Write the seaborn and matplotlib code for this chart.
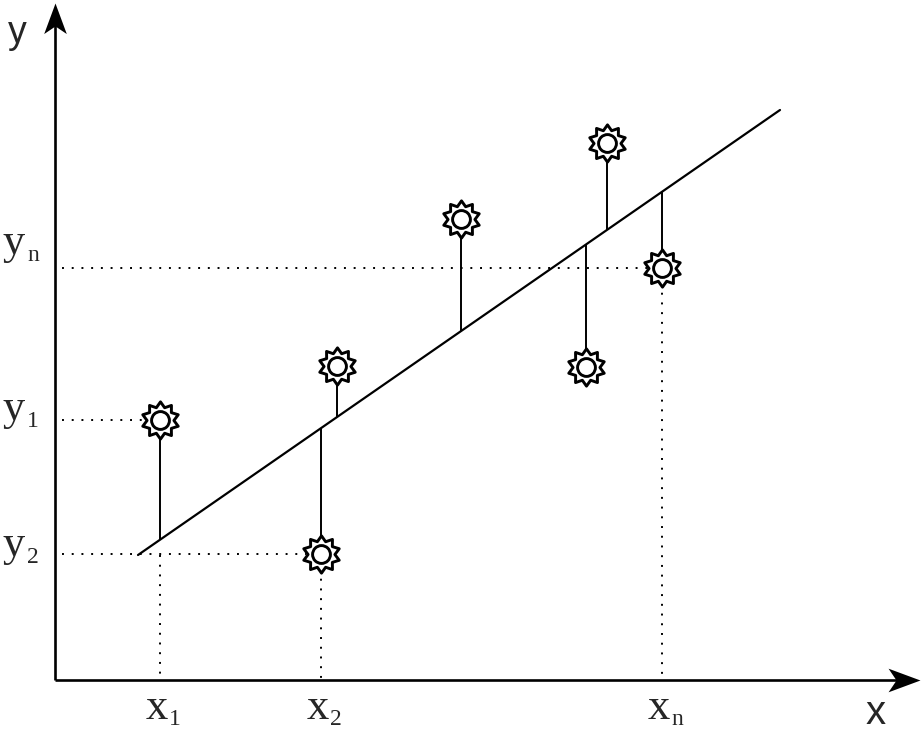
import numpy as np
import pandas as pd
import matplotlib
matplotlib.use("Agg")
import matplotlib.pyplot as plt
from matplotlib.path import Path
import seaborn as sns

# ---- data (schematic units, origin at axes corner) ----
x_vals = [105, 266, 282, 406, 531, 552, 607]
y_vals = [260, 126, 314, 461, 313, 537, 412]
line_x = [83, 725]
line_y = [125, 570]
x_tick_idx = [0, 1, 6]
x_tick_subs = ["1", "2", "n"]
y_tick_idx = [6, 0, 1]
y_tick_subs = ["n", "1", "2"]
x_end = 865
y_end = 677

sns.set_theme(style="white")
plt.rcParams["font.family"] = ["Liberation Serif", "DejaVu Serif"]

fig = plt.figure(figsize=(9.22, 7.31), dpi=100)
ax = fig.add_axes([0, 0, 1, 1])
ax.set_xlim(-55, 867)
ax.set_ylim(-51, 680)
ax.axis("off")

df = pd.DataFrame({"x": x_vals, "y": y_vals})
fitted = np.interp(x_vals, line_x, line_y)

# regression line
sns.lineplot(x=line_x, y=line_y, ax=ax, color="black", lw=1.6, zorder=3)

# stems (residuals)
ax.vlines(x_vals, fitted, y_vals, color="black", lw=1.4, zorder=2)

# guide dotted lines
r = 15
dot = (0, (1, 4))
for i in y_tick_idx:
    xe = x_vals[i] - r if i != 6 else x_vals[i] - 12
    ax.plot([7, xe], [y_vals[i], y_vals[i]], color="black", lw=1.4, ls=dot, zorder=1)
ax.plot([x_vals[0], x_vals[0]], [line_y[0], 0], color="black", lw=1.4, ls=dot, zorder=1)
for i in (1, 6):
    ax.plot([x_vals[i], x_vals[i]], [y_vals[i] - r, 0], color="black", lw=1.4, ls=dot, zorder=1)

# star marker
n = 10
ang = np.pi / 2 + np.arange(2 * n) * np.pi / n
rad = np.where(np.arange(2 * n) % 2 == 0, 1.0, 0.72)
verts = np.column_stack([rad * np.cos(ang), rad * np.sin(ang)])
verts = np.vstack([verts, verts[:1]])
codes = [Path.MOVETO] + [Path.LINETO] * (2 * n - 1) + [Path.CLOSEPOLY]
star = Path(verts, codes)
sns.scatterplot(data=df, x="x", y="y", marker=star, s=720, color="white",
                edgecolor="black", linewidth=2.1, ax=ax, zorder=4, legend=False)
ax.scatter(x_vals, y_vals, s=165, color="white", edgecolor="black", linewidth=2.1, zorder=5)

# axes with arrows
ax.plot([0, 0], [0, y_end - 20], color="black", lw=1.9, solid_capstyle="butt", zorder=3)
ax.plot([0, x_end - 20], [0, 0], color="black", lw=1.9, solid_capstyle="butt", zorder=3)
up = Path([(0, 0), (-0.37, -1), (0, -0.75), (0.37, -1), (0, 0)],
          [Path.MOVETO, Path.LINETO, Path.LINETO, Path.LINETO, Path.CLOSEPOLY])
right = Path([(0, 0), (-1, 0.37), (-0.75, 0), (-1, -0.37), (0, 0)],
             [Path.MOVETO, Path.LINETO, Path.LINETO, Path.LINETO, Path.CLOSEPOLY])
ax.plot([0], [y_end], marker=up, ms=44, color="black", mew=0, zorder=4)
ax.plot([x_end], [0], marker=right, ms=46, color="black", mew=0, zorder=4)

ax.text(-47, 637, "y", fontsize=27, family=["Liberation Sans"], ha="left", va="baseline")
ax.text(811, -44, "x", fontsize=29, family=["Liberation Sans"], ha="left", va="baseline")

# tick-like labels
y_label_dy = [14, 0, -2]
for i, sub, dy in zip(y_tick_idx, y_tick_subs, y_label_dy):
    yv = y_vals[i] + dy
    ax.text(-52, yv, "y", fontsize=32, ha="left", va="baseline")
    ax.text(-28, yv - 7, sub, fontsize=17, ha="left", va="baseline")
for i, sub in zip(x_tick_idx, x_tick_subs):
    xv = x_vals[i]
    ax.text(xv - 3, -39, "x", fontsize=32, ha="center", va="baseline")
    ax.text(xv + 9, -45, sub, fontsize=17, ha="left", va="baseline")

fig.savefig("out.png", dpi=100, facecolor="white")
